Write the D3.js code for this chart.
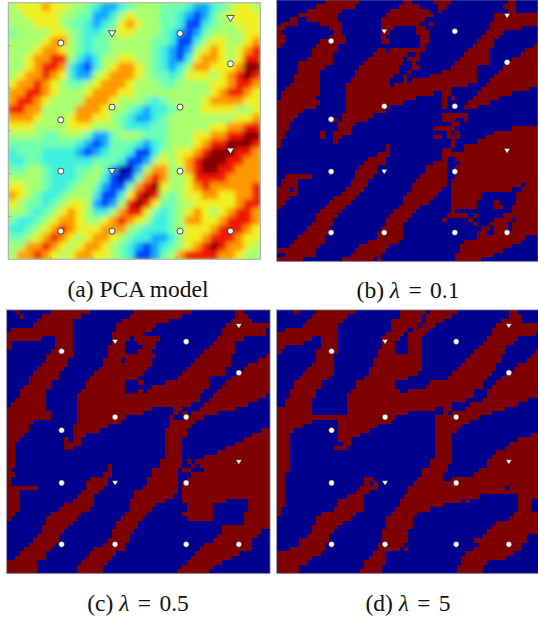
<!DOCTYPE html>
<html><head><meta charset="utf-8">
<script src="https://cdn.jsdelivr.net/npm/d3@7"></script>
<style>html,body{margin:0;padding:0;background:#fff;overflow:hidden}svg{display:block}</style>
</head><body><div id="c"></div>
<script>
const heatRows = [
"566676655432234555444322345665",
"556666554422356555443212456666",
"555666544323467655443113455666",
"455556654334566555432124555566",
"555567754344555554431135665567",
"555677654344555554321256765678",
"556778853235566554321367765688",
"556788732135677654323577666799",
"567787632256777654434666567898",
"677876544567776555445555667887",
"778876555677766555555555678876",
"788765555777655543455556777766",
"887755557776554323345556666556",
"777655567766543223455555555667",
"666555566655543334455555667788",
"555544555422455544455566778899",
"444444443212444323455567889998",
"344433332123443113556678999887",
"334433333344431125656789998877",
"445543334454200257755789988777",
"555543334553101478755688887777",
"665543345542114789655678777778",
"765433455531136898545667766778",
"654434566521258986445566666788",
"554345676533578864345676567887",
"433456776556787653345776678887",
"334567876667775433345666788876",
"445678765677654332235667888766",
"557787656776543212345678987765",
"577876567766543112457888877655"];
const jetStops = ["#0000a8","#0040ff","#10a8ff","#40f0e0","#70ffb0","#a8ff70","#f0f020","#ff9800","#f01800","#840000"];
const rowsB = [
"11-19 29-31 36-40 53-55","9-18 28-33 37-39 52-55","7-15 26-35 37-38 53-55","5-14 25-36 50-60","3-5 7-14 24-34 50-60",
"1-5 10-15 24-33 35-36 49-60","0-2 12-15 24-27 32-34 49-56","0-1 13-15 24-26 32-35 48-52","0-2 12-16 24-25 33-35 47-51","0-2 10-16 24-26 33-35 46-50",
"0-1 9-14 33-34 45-50 59-60","8-14 23-25 26-34 44-49 57-60","8-13 22-30 32-33 43-49 56-60","7-13 21-29 30-33 42-49 54-60","5-13 20-29 31-32 41-49 53-60",
"5-11 19-28 31-33 40-46 52-60","5-10 18-28 30-31 38-46 51-60","4-10 18-27 29-30 35-46 50-60","4-10 17-26 29-30 31-46 49-60","3-10 16-26 27-44 48-60",
"2-10 16-40 47-58","1-10 16-36 38-40 46-54","1-9 16-32 38-39 40-41 45-51","0-10 16-29 38-39 44-49","0-9 16-26 38-39 43-46",
"0-6 16-25","0-5 15-22 38-44","0-4 13-14 15-21 38-41 43-44","0-3 14-18 40-42","0-3 14-17 36-41 54-60",
"0-2 10-11 13-17 39-40 41-42 50-60","0-2 10-11 13-15 36-38 39-42 48-60","0-1 13-14 40-41 46-60","0-1 25-26 40-41 43-60","25-26 38-40 43-60",
"23-26 38-44 42-60","21-25 38-39 41-60","20-25 36-39 42-60","19-23 34-39 41-60","18-23 34-39 41-60",
"2-8 18-22 33-39 41-60","1-5 17-21 32-39 40-60","1-5 17-21 31-39 40-56 57-60","0-3 4-5 16-20 31-38 40-54 56-60","0-5 15-19 30-37 40-47 55-60",
"0-3 13-18 29-36 40-47 55-60","0-2 12-17 29-35 40-46 50-51 55-60","0-1 11-16 28-33 40-46 50-52 54-60","10-15 27-32 40-41 54-60","9-14 26-31 39-44 45-46 52-60",
"9-13 25-30 38-39 44-45 50-54 55-60","8-13 25-29 45-46 49-53 54-60","7-12 24-29 47-49 50-53 54-60","6-12 23-29 46-48 50-60","5-11 23-29 46-57",
"4-11 21-28 43-56","3-10 19-26 42-54","0-9 18-25 42-52","2-9 17-24 41-50","0-6 15-22 23-24 41-47"];
const rowsC = [
"2-3 10-19 29-42 52-54","3-4 8-17 28-40 52-55","7-15 26-37 51-56","6-15 25-34 50-60","1-15 25-33 49-59",
"0-15 24-31 49-59","0-8 11-15 24-28 29-35 48-54","0-1 11-15 24-27 30-34 47-52","0-1 11-15 23-27 31-34 46-52","10-15 23-27 30-33 45-52",
"9-15 23-34 44-51 59-60","9-14 22-26 27-33 43-51 57-60","8-14 22-33 42-51 55-60","7-13 21-32 41-50 54-60","6-12 20-31 40-50 53-60",
"5-12 19-30 39-46 51-60","5-10 18-27 30-31 36-46 50-60","4-10 18-27 33-46 49-60","3-9 17-27 30-31 32-45 48-60","3-9 16-44 47-59",
"2-9 16-44 46-57","1-9 16-42 45-55","0-9 16-33 38-40 44-52","0-10 16-31 38-39 40-41 42-48","0-10 16-27 37-38 41-45",
"0-6 16-26 37-43","0-5 15-23 37-42","0-5 15-21 36-41 58-60","0-4 15-18 36-41 56-60","0-3 13-14 15-17 36-40 54-60",
"0-2 13-17 36-40 52-60","0-2 13-15 36-40 50-60","0-2 36-40 48-60","0-2 36-40 45-60","0-2 35-40 41-42 43-60",
"0-2 23-24 35-40 42-43 44-60","0-1 23-24 33-39 40-42 45-60","0-2 22-24 33-39 42-60","0-1 19-23 32-39 41-60","0-1 18-23 32-39 40-60",
"0-7 18-22 31-39 40-60","0-3 17-21 29-39 40-60","0-3 16-20 29-38 40-60","0-3 15-20 28-36 40-50 55-60","0-3 13-20 28-34 41-47 55-60",
"0-3 12-19 28-33 41-47 55-60","0-2 10-17 27-32 40-47 54-60","0-1 9-16 26-31 41-47 54-60","9-15 25-30 54-60","8-14 25-30 49-60",
"8-13 24-29 49-58","7-12 24-28 48-57","6-12 23-28 47-56","5-11 22-27 45-56","4-10 20-27 44-56",
"3-9 19-25 43-53","2-9 18-24 42-51","0-7 17-23 41-49","0-7 16-22 40-47","0-7 16-22 39-46"];
const rowsD = [
"4-5 9-18 28-34 35-41 53-55","8-16 28-33 34-40 53-56","7-15 26-33 34-38 51-56","6-14 26-32 33-36 50-60","2-14 26-30 31-35 49-60",
"0-14 25-29 30-34 49-59","0-8 10-14 24-28 30-33 48-55","0-6 10-14 24-27 30-33 47-54","0-2 10-14 24-27 30-33 46-52","0-1 9-14 23-27 30-33 45-52 59-60",
"9-13 23-33 44-51 58-60","9-13 22-33 43-51 57-60","8-13 22-33 42-50 55-60","7-13 21-33 41-50 54-60","6-13 21-32 40-49 53-60",
"5-12 20-30 39-48 51-60","4-10 18-27 35-47 50-60","4-10 18-27 34-47 49-60","3-9 17-28 30-45 48-60","3-9 16-45 48-60",
"2-8 16-43 47-57","2-8 16-40 44-55","0-8 16-36 38-40 43-52","0-8 16-30 38-39 40-49","0-27 36-46",
"0-8 14-26 36-44","0-6 14-23 36-42","0-4 14-21 36-41","0-3 14-19 36-40 58-60","0-3 14-17 36-40 55-60",
"0-3 15-17 36-40 53-60","0-3 13-16 36-40 52-60","0-3 36-40 50-60","0-3 36-40 49-60","0-3 35-40 48-60",
"0-3 35-39 48-60","0-3 33-39 46-60","0-2 33-38 45-60","0-2 20-22 32-38 40-60","0-2 20-21 22-23 31-60",
"0-2 19-23 30-52 53-60","0-2 18-21 30-60","0-2 16-20 29-46 55-60","0-2 14-20 28-42 43-44 55-58","0-2 14-20 28-38 55-58",
"0-1 13-20 27-35 55-58","0-1 10-18 26-32 54-60","9-17 25-31 53-60","9-15 25-31 50-60","8-14 25-31 49-60",
"8-13 24-30 48-60","7-12 24-30 47-57","5-12 24-30 45-57","5-11 23-29 46-56","3-11 23-28 29-30 45-56",
"0-10 22-25 43-54","0-8 21-25 42-52","0-7 20-25 42-48","0-5 20-24 41-47","0-5 19-24 41-47"];
const dotCells = [[12.5,9.4],[24.7,24.4],[12.5,27.4],[40.9,7.2],[40.9,24.4],[52.9,14.3],[12.5,39.4],[40.9,39.4],[12.5,53.4],[24.7,53.4],[40.9,53.4],[52.9,53.4]];
const triangleCells = [[24.7,7.2],[52.9,3.6],[52.9,34.6],[24.7,39.4]];
const captions = [["(a) PCA model"],["(b) ","λ"," = 0.1"],["(c) ","λ"," = 0.5"],["(d) ","λ"," = 5"]];
const panelBoxes = [
 {x:8.3,y:2.7,w:252,h:256.6,cap:[138,297]},
 {x:276.7,y:0,w:261.3,h:261.3,cap:[408,298]},
 {x:6.7,y:310,w:263.3,h:263.3,cap:[138,611]},
 {x:276.7,y:310,w:263.3,h:263.3,cap:[408,611]}];

const GRID = d3.range(60);
const parse = r => r.split(" ").map(s => s.split("-").map(Number));
const gridOf = rows => rows.flatMap((r,j) => { const iv = parse(r);
  return GRID.map(i => ({i,j,v: iv.some(([a,b]) => i>=a && i<b) ? 1 : 0})); });
const binColor = d3.scaleOrdinal([0,1],["#00008f","#7f0000"]);
const jet = d3.scaleLinear().domain(d3.range(10)).range(jetStops).interpolate(d3.interpolateRgb);

const svg = d3.select("#c").append("svg").attr("width",538).attr("height",621).style("font-family","'Liberation Serif',serif");
const defs = svg.append("defs");
defs.append("filter").attr("id","soft").attr("x","-5%").attr("y","-5%").attr("width","110%").attr("height","110%")
  .append("feGaussianBlur").attr("stdDeviation",2.4);
panelBoxes.forEach((b,k) => defs.append("clipPath").attr("id","clip"+k).append("rect").attr("x",0).attr("y",0).attr("width",b.w).attr("height",b.h));

panelBoxes.forEach((b,k) => {
  const g = svg.append("g").attr("transform",`translate(${b.x},${b.y})`);
  const x = d3.scaleLinear().domain([0,60]).range([0,b.w]);
  const y = d3.scaleLinear().domain([0,60]).range([0,b.h]);
  const inner = g.append("g").attr("clip-path",`url(#clip${k})`);
  if (k===0) {
    inner.append("rect").attr("width",b.w).attr("height",b.h).attr("fill",jet(5));
    const cells = heatRows.flatMap((r,j) => Array.from(r,(c,i) => ({i,j,v:+c})));
    inner.append("g").attr("filter","url(#soft)").selectAll("rect").data(cells).join("rect")
      .attr("x",d=>x(d.i*2)).attr("y",d=>y(d.j*2)).attr("width",x(2)+.5).attr("height",y(2)+.5).attr("fill",d=>jet(d.v));
    const ticks = [10,20,30,40,50];
    g.append("g").selectAll("line").data(ticks).join("line").attr("x1",0).attr("x2",2.5).attr("y1",d=>y(d)).attr("y2",d=>y(d)).attr("stroke","#888").attr("stroke-width",.7);
    g.append("g").selectAll("line").data(ticks).join("line").attr("y1",b.h).attr("y2",b.h-2.5).attr("x1",d=>x(d)).attr("x2",d=>x(d)).attr("stroke","#888").attr("stroke-width",.7);
  } else {
    const rows = [null,rowsB,rowsC,rowsD][k];
    inner.append("g").attr("shape-rendering","crispEdges").selectAll("rect").data(gridOf(rows)).join("rect")
      .attr("x",d=>x(d.i)).attr("y",d=>y(d.j)).attr("width",x(1)+.4).attr("height",y(1)+.4).attr("fill",d=>binColor(d.v));
  }
  g.append("rect").attr("width",b.w).attr("height",b.h).attr("fill","none")
    .attr("stroke",k===0?"#a8a8a8":"#70708c").attr("stroke-width",k===0?1:.8);
  const big = k===0;
  g.append("g").selectAll("circle").data(dotCells).join("circle")
    .attr("cx",d=>x(d[0])).attr("cy",d=>y(d[1])).attr("r",big?3:2.8)
    .attr("fill","#fff").attr("stroke",big?"#222":"#111").attr("stroke-width",big?.8:.4);
  const s = big?3.8:3;
  g.append("g").selectAll("path").data(triangleCells).join("path")
    .attr("transform",d=>`translate(${x(d[0])},${y(d[1])})`)
    .attr("d",`M${-s},${-s*.7}L${s},${-s*.7}L0,${s*.9}Z`)
    .attr("fill","#fff").attr("stroke",big?"#222":"#111").attr("stroke-width",big?.8:.4);
  const t = svg.append("text").attr("x",b.cap[0]).attr("y",b.cap[1]).attr("text-anchor","middle").attr("font-size",23.5).attr("fill","#111");
  captions[k].forEach(p => t.append("tspan").attr("font-style",p==="λ"?"italic":"normal").attr("word-spacing",p.includes("=")?"2.5px":null).text(p));
});
</script></body></html>
